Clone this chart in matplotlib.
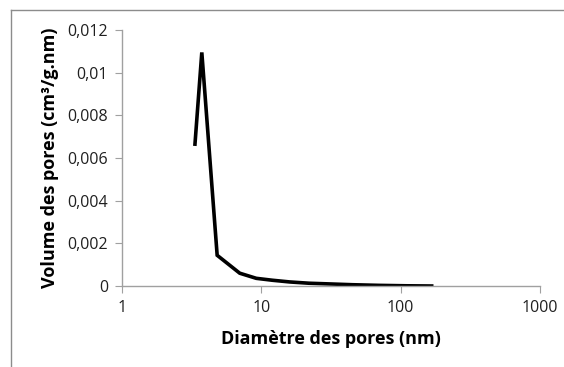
import matplotlib.pyplot as plt
from matplotlib.ticker import FuncFormatter, FixedLocator, NullLocator
from matplotlib.lines import Line2D

# pore size distribution
diametre = [3.34, 3.74, 4.82, 7.0, 9.2, 12, 16, 22, 30, 45, 70, 110, 167]
volume = [0.00665, 0.01095, 0.00144, 0.0006, 0.00036, 0.00027, 0.00019,
          0.00013, 0.0001, 0.00006, 0.00003, 0.00001, 0.0]

x_ticks = [1, 10, 100, 1000]
y_ticks = [0, 0.002, 0.004, 0.006, 0.008, 0.010, 0.012]

plt.rcParams['font.family'] = ['Open Sans', 'DejaVu Sans']

fig = plt.figure(figsize=(5.64, 3.67), dpi=100)
ax = fig.add_axes([0.2163, 0.2207, 0.7411, 0.6975])

ax.plot(diametre, volume, color='black', lw=2.6, solid_joinstyle='miter')

ax.set_xscale('log')
ax.set_xlim(1, 1000)
ax.set_ylim(0, 0.012)
ax.xaxis.set_major_locator(FixedLocator(x_ticks))
ax.xaxis.set_minor_locator(NullLocator())
ax.xaxis.set_major_formatter(FuncFormatter(lambda v, p: '%d' % v))
ax.yaxis.set_major_locator(FixedLocator(y_ticks))


def fmt_y(v, p):
    if v == 0:
        return '0'
    return ('%g' % round(v, 4)).replace('.', ',')


ax.yaxis.set_major_formatter(FuncFormatter(fmt_y))

for s in ['top', 'right']:
    ax.spines[s].set_visible(False)
for s in ['left', 'bottom']:
    ax.spines[s].set_color('#a0a0a0')
    ax.spines[s].set_linewidth(1.0)
ax.tick_params(axis='both', direction='out', length=5, color='#a0a0a0',
               labelsize=11.5, labelcolor='#202020', pad=5)

ax.set_xlabel('Diamètre des pores (nm)', fontsize=13, fontweight='bold',
              labelpad=10)
ax.set_ylabel('Volume des pores (cm³/g.nm)', fontsize=13,
              fontweight='bold', labelpad=6)

# chart area frame (only left and top visible in the crop)
fig.add_artist(Line2D([11 / 564, 11 / 564], [0, 1 - 10 / 367],
                      color='#8c8c8c', lw=1.0, transform=fig.transFigure))
fig.add_artist(Line2D([11 / 564, 1], [1 - 10 / 367, 1 - 10 / 367],
                      color='#8c8c8c', lw=1.0, transform=fig.transFigure))

fig.savefig('out.png', dpi=100)
